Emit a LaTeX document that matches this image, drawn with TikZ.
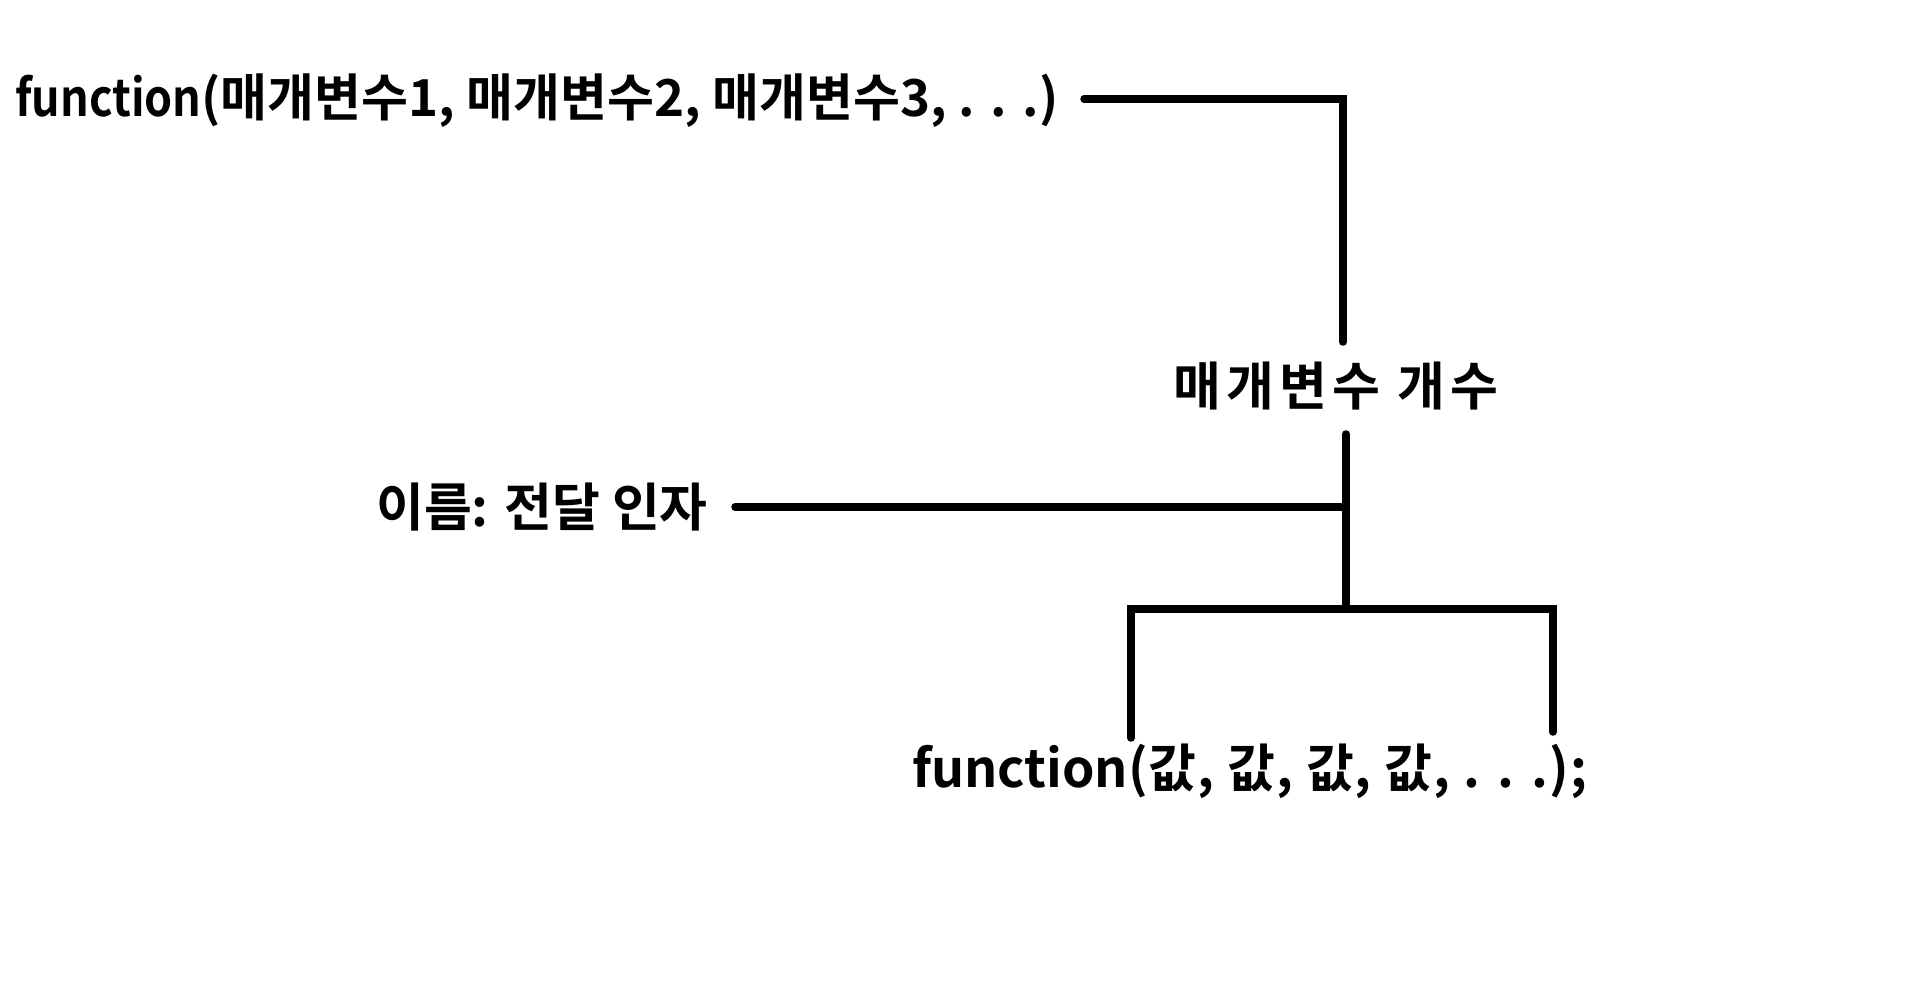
\documentclass[tikz,border=0pt]{standalone}
\usepackage{fontspec}
\setmainfont{Noto Sans CJK KR}[BoldFont={Noto Sans CJK KR Bold}]
\begin{document}
\begin{tikzpicture}[x=1pt,y=-1pt,
  lbl/.style={inner sep=0pt,outer sep=0pt,font=\fontsize{52}{60}\selectfont\bfseries},
  conn/.style={line width=7.5pt,line cap=round,line join=miter}]
\useasboundingbox[fill=white] (0,0) rectangle (1931,1000);
\node[lbl,anchor=west,font=\fontsize{51}{60}\selectfont\bfseries] (top) at (15,101) {\scalebox{0.88}[1]{function}(매개변수1, 매개변수2, 매개변수3, . . .)};
\node[lbl] (count) at (1336,386) {\addfontfeature{LetterSpace=10}매개변수 개수};
\node[lbl] (name) at (542,507) {이름: 전달 인자};
\node[lbl,anchor=west] (call) at (912,771) {function{\addfontfeature{LetterSpace=2}(값, 값, 값, 값, . . .);}};
% coordinates
\coordinate (t1) at (1084,99);
\coordinate (t2) at (1343,99);
\coordinate (t3) at (1343,342);
\coordinate (m1) at (1346,434);
\coordinate (m2) at (1346,609);
\coordinate (n1) at (735,507);
\coordinate (n2) at (1346,507);
\coordinate (bl) at (1131,609);
\coordinate (br) at (1553,609);
\coordinate (bl2) at (1131,738);
\coordinate (br2) at (1553,732);
\draw[conn] (t1) -- (t2) -- (t3);
\draw[conn] (m1) -- (m2);
\draw[conn] (n1) -- (n2);
\draw[conn] (bl2) -- (bl) -- (br) -- (br2);
\end{tikzpicture}
\end{document}
